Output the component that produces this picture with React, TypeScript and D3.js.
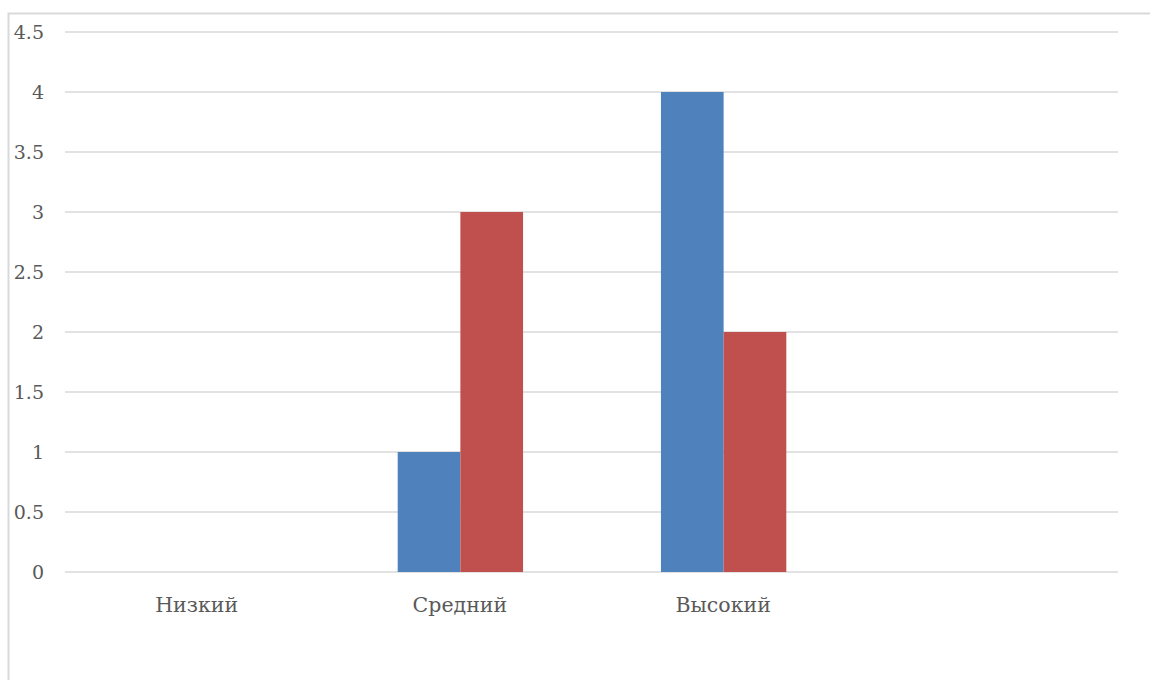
import React, { useEffect, useRef } from "react";
import * as d3 from "d3";

const categories = ["Низкий", "Средний", "Высокий", ""];
const series1 = [0, 1, 4, 0];
const series2 = [0, 3, 2, 0];
const yTicks = [0, 0.5, 1, 1.5, 2, 2.5, 3, 3.5, 4, 4.5];
const seriesColors = ["#4F81BD", "#C0504D"];

const W = 1150;
const H = 680;

export default function App() {
  const ref = useRef<SVGSVGElement>(null);

  useEffect(() => {
    const svg = d3.select(ref.current);
    svg.selectAll("*").remove();

    const left = 65, right = 1118, top = 32, bottom = 572;
    const font = "'DejaVu Serif', serif";

    // outer chart frame
    svg.append("rect")
      .attr("x", 8.5).attr("y", 13.5)
      .attr("width", W + 10).attr("height", H + 10)
      .attr("fill", "white").attr("stroke", "#d9d9d9").attr("stroke-width", 2);

    const x = d3.scaleBand<string>()
      .domain(categories.map((c, i) => String(i)))
      .range([left, right]);
    const y = d3.scaleLinear().domain([0, 4.5]).range([bottom, top]);

    // gridlines
    svg.append("g").selectAll("line").data(yTicks).join("line")
      .attr("x1", left).attr("x2", right)
      .attr("y1", d => y(d)).attr("y2", d => y(d))
      .attr("stroke", "#d9d9d9").attr("stroke-width", 1.5);

    // tick labels
    svg.append("g").selectAll("text").data(yTicks).join("text")
      .attr("x", 44).attr("y", d => y(d))
      .attr("dy", "0.36em")
      .attr("text-anchor", "end")
      .attr("font-family", font).attr("font-size", 19)
      .attr("fill", "#595959")
      .text(d => String(d));

    const bw = x.bandwidth();
    const barW = bw / 4.2;
    const groupW = barW * 2;
    const sub = d3.scaleBand<number>().domain([0, 1]).range([0, groupW]);

    const data = [series1, series2];
    data.forEach((vals, si) => {
      svg.append("g").selectAll("rect").data(vals).join("rect")
        .attr("x", (d, i) => (x(String(i)) as number) + (bw - groupW) / 2 + (sub(si) as number) + 0.5)
        .attr("y", d => y(d))
        .attr("width", sub.bandwidth())
        .attr("height", d => bottom - y(d))
        .attr("fill", seriesColors[si]);
    });

    // category labels
    svg.append("g").selectAll("text").data(categories).join("text")
      .attr("x", (d, i) => (x(String(i)) as number) + bw / 2)
      .attr("y", 612)
      .attr("text-anchor", "middle")
      .attr("font-family", font).attr("font-size", 20.5)
      .attr("fill", "#595959")
      .text(d => d);
  }, []);

  return (
    <svg
      ref={ref}
      width={W}
      height={H}
      style={{ position: "absolute", left: 0, top: 0, background: "white" }}
    />
  );
}
